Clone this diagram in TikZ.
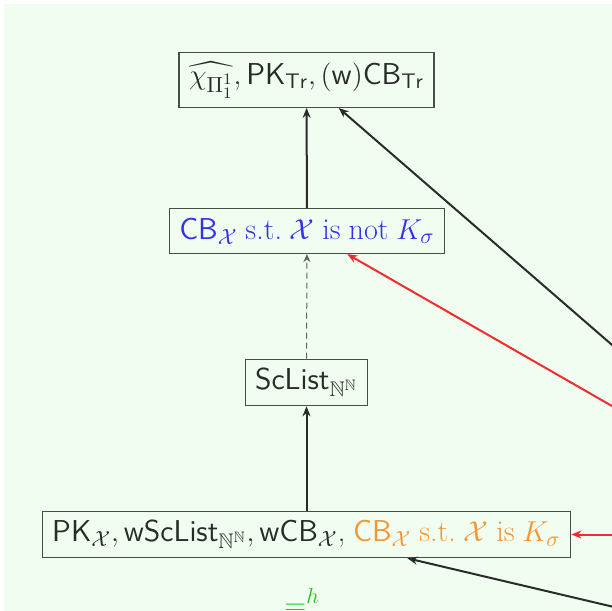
\documentclass[tikz,border=0pt]{standalone}
\usepackage{amssymb}
\usepackage{fontspec}
\usetikzlibrary{arrows.meta}
\definecolor{bg}{RGB}{242,253,241}
\definecolor{ink}{RGB}{40,44,40}
\definecolor{frame}{RGB}{70,78,70}
\definecolor{blu}{RGB}{50,50,235}
\definecolor{org}{RGB}{245,150,50}
\definecolor{rd}{RGB}{240,45,45}
\definecolor{grn}{RGB}{35,195,35}
\newcommand{\chartfont}{\fontsize{15.1}{18}\selectfont\spaceskip=3.9pt plus 1pt minus 1pt\relax}
\tikzset{
  box/.style={draw=frame, line width=0.6pt, fill=bg, text=ink,
    inner xsep=5pt, inner ysep=4.5pt, minimum height=22.5pt, font=\chartfont},
  imp/.style={draw=ink, line width=1pt, -{Stealth[length=5pt,width=4pt]}},
  weak/.style={draw=ink!75, line width=0.5pt, dash pattern=on 3pt off 2pt,
    -{Stealth[length=4pt,width=3.5pt]}},
  redimp/.style={draw=rd, line width=1pt, -{Stealth[length=5pt,width=4pt]}},
  lbl/.style={text=grn, font=\chartfont, inner sep=0pt}
}
\begin{document}
\begin{tikzpicture}[x=0.5pt,y=-0.5pt]
  \useasboundingbox (0,0) rectangle (612,611);
  \clip (0,0) rectangle (612,611);
  \fill[white] (0,0) rectangle (612,611);
  \fill[bg] (4,4) rectangle (612,611);

  % nodes of the implication chart
  \node[box] (top) at (306.5,80)
    {$\widehat{\chi_{\Pi^1_1}}, \mathsf{PK}_{\mathsf{Tr}}, (\mathsf{w})\mathsf{CB}_{\mathsf{Tr}}$};
  \node[box, text=blu] (nk) at (307,231)
    {$\mathsf{CB}_{\mathcal X}$ s.t.\ $\mathcal X$ is not $K_\sigma$};
  \node[box] (sc) at (306.5,382.5)
    {$\mathsf{ScList}_{\mathbb N^{\mathbb N}}$};
  \node[box] (bot) at (306.5,534.5)
    {$\mathsf{PK}_{\mathcal X}, \mathsf{wScList}_{\mathbb N^{\mathbb N}}, \mathsf{wCB}_{\mathcal X}$,
     \textcolor{org}{$\mathsf{CB}_{\mathcal X}$ s.t.\ $\mathcal X$ is $K_\sigma$}};

  % sources lying beyond the right edge
  \coordinate (ea) at (720,438.5);
  \coordinate (eb) at (720,468);
  \coordinate (ec) at (720,534.5);
  \coordinate (ed) at (720,632);

  % implications
  \draw[imp] (bot) -- (sc);
  \draw[weak] (sc) -- (nk);
  \draw[imp] (nk) -- (top);
  \draw[imp] (ea) -- (top);
  \draw[redimp] (eb) -- (nk);
  \draw[redimp] (ec) -- (bot);
  \draw[imp] (ed) -- (bot);

  % equivalence label at the lower edge
  \node[lbl, anchor=base west] (eqh) at (284,614) {$=^h$};
\end{tikzpicture}
\end{document}
